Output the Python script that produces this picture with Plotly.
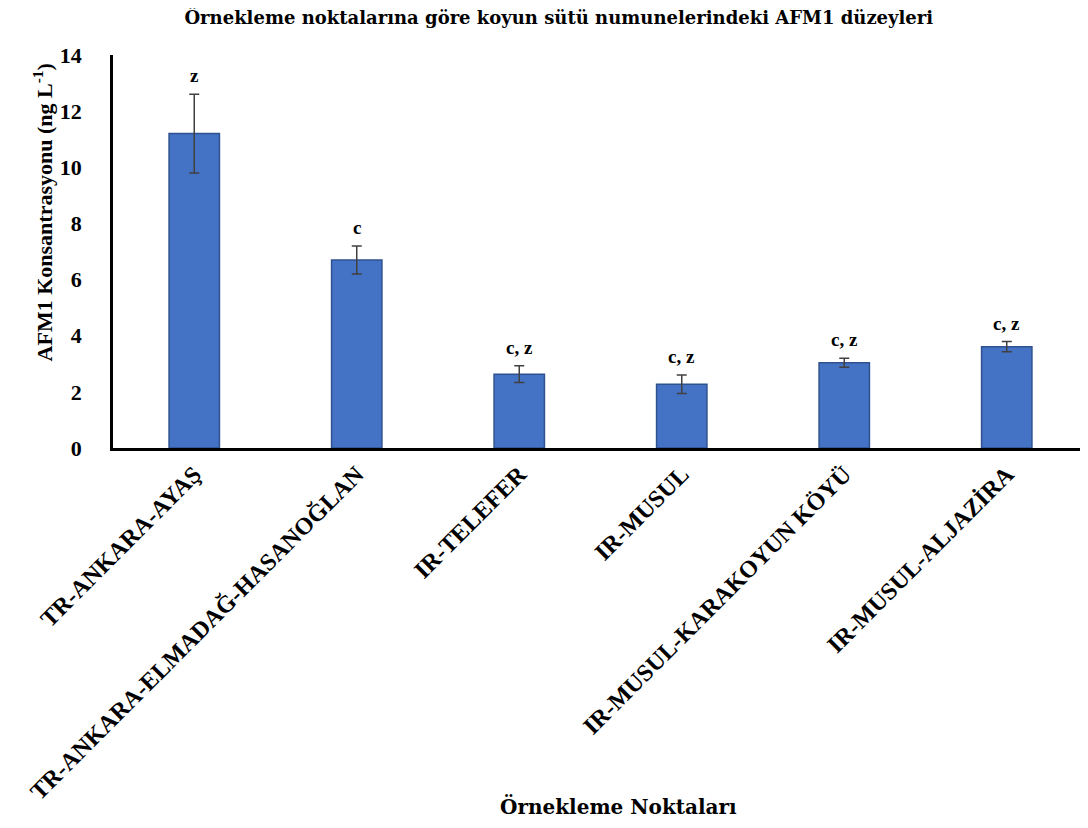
import plotly.graph_objects as go

categories = ["TR-ANKARA-AYAŞ", "TR-ANKARA-ELMADAĞ-HASANOĞLAN", "IR-TELEFER",
              "IR-MUSUL", "IR-MUSUL-KARAKOYUN KÖYÜ", "IR-MUSUL-ALJAZİRA"]
means = [11.2, 6.7, 2.63, 2.27, 3.04, 3.61]
errors = [1.4, 0.5, 0.3, 0.33, 0.16, 0.18]
letters = ["z", "c", "c, z", "c, z", "c, z", "c, z"]
y_ticks = [0, 2, 4, 6, 8, 10, 12, 14]

FONT = "Liberation Serif"
WIDE = "DejaVu Serif"

fig = go.Figure()
fig.add_trace(go.Bar(
    x=categories, y=means,
    marker=dict(color="#4472C4", line=dict(color="#2F528F", width=1.5)),
    error_y=dict(type="data", array=errors, visible=True, color="#404040",
                 thickness=1.5, width=5),
    showlegend=False,
))

for c, m, e, l in zip(categories, means, errors, letters):
    fig.add_annotation(x=c, y=m + e, text=f"<b>{l}</b>", showarrow=False,
                       yanchor="bottom", yshift=6,
                       font=dict(family=FONT, size=19, color="black"))

fig.add_annotation(xref="paper", yref="paper", x=0.518, y=-0.948,
                   text="<b>Örnekleme Noktaları</b>", showarrow=False,
                   font=dict(family=WIDE, size=20, color="black"))
fig.add_annotation(xref="paper", yref="paper", x=-0.088, y=0.60,
                   text="<b>AFM1 Konsantrasyonu (ng L<sup>-1</sup>)</b>", showarrow=False,
                   textangle=-90,
                   font=dict(family=FONT, size=22, color="black"))

fig.update_layout(
    width=1080, height=820,
    margin=dict(l=105, r=0, t=47, b=380),
    paper_bgcolor="white", plot_bgcolor="white",
    bargap=0.69,
    title=dict(text="<b>Örnekleme noktalarına göre koyun sütü numunelerindeki AFM1 düzeyleri</b>",
               x=0.51, xanchor="center", y=0.988, yanchor="middle",
               font=dict(family=WIDE, size=18, color="black")),
    font=dict(family=FONT, color="black"),
)
fig.update_xaxes(
    showline=True, linecolor="black", linewidth=2.5,
    tickangle=-45, ticks="", automargin=False,
    tickfont=dict(family=FONT, size=24, color="black"),
    showgrid=False,
    tickvals=categories, ticktext=[f"<b>{c}</b>" for c in categories],
)
fig.update_yaxes(
    range=[0, 14], tickvals=y_ticks, ticktext=[f"<b>{t}</b>" for t in y_ticks],
    showline=True, linecolor="black", linewidth=2.5, automargin=False,
    showgrid=False, zeroline=False, ticks="",
    ticklabelstandoff=24,
    tickfont=dict(family=FONT, size=22, color="black"),
)

fig.write_html("out.html")
